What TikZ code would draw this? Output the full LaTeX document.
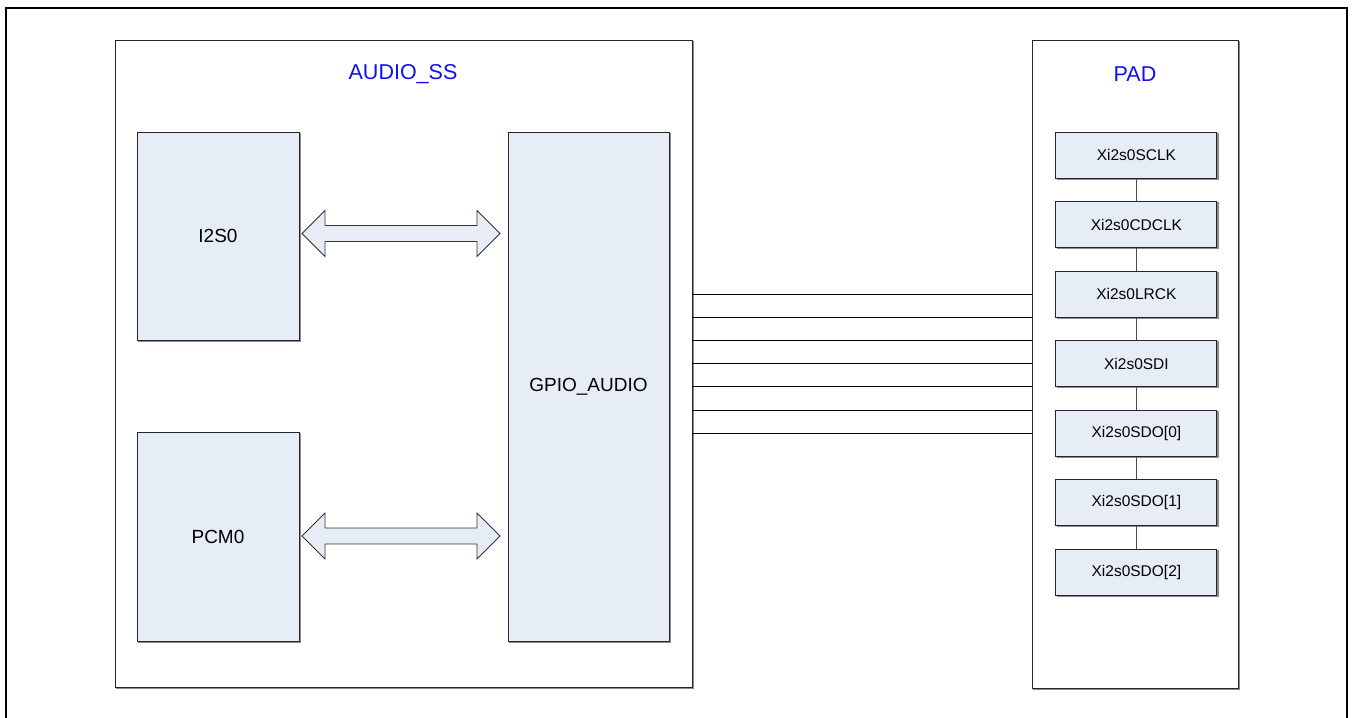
\documentclass[tikz,border=0pt]{standalone}
\usepackage{fontspec}
\setmainfont{Liberation Sans}
\definecolor{boxfill}{HTML}{E6EDF7}
\definecolor{lblblue}{HTML}{1010F0}
\begin{document}
\begin{tikzpicture}[x=1pt,y=-1pt,
  shadowed/.style={draw=black!85,line width=0.9pt,
    preaction={draw=black!45,fill=black!45,line width=0.9pt,transform canvas={xshift=1.2pt,yshift=-1.2pt}}},
  blk/.style={shadowed,fill=boxfill,inner sep=0pt},
  bigbox/.style={shadowed,fill=white,inner sep=0pt},
  padbox/.style={blk,minimum width=161pt,minimum height=46pt,font=\fontsize{15.5}{18}\selectfont},
  title/.style={text=lblblue,font=\fontsize{21.5}{24}\selectfont},
  bus/.style={draw=black!80,fill=boxfill,line width=0.8pt,line join=miter},
  wire/.style={draw=black,line width=0.9pt},
  link/.style={draw=black!70,line width=0.9pt}]
\useasboundingbox (0,0) rectangle (1353,718);
% outer frame
\draw[line width=1.6pt] (6,725) -- (6,8) -- (1347,8) -- (1347,725);
% AUDIO_SS block
\node[bigbox,minimum width=577pt,minimum height=647pt] (ss) at (403.5,363.5) {};
\node[title] (sslbl) at (403,74) {AUDIO\_SS};
\node[blk,minimum width=162pt,minimum height=208pt,font=\fontsize{19}{22}\selectfont] (i2s) at (218,236) {I2S0};
\node[blk,minimum width=162pt,minimum height=209pt,font=\fontsize{19}{22}\selectfont] (pcm) at (218,536.5) {PCM0};
\node[blk,minimum width=161pt,minimum height=509pt,font=\fontsize{19}{22}\selectfont] (gpio) at (588.5,386.5) {GPIO\_AUDIO};
% double arrows between blocks
\foreach \src/\yy in {i2s/233.5,pcm/536}{
  \coordinate (L) at ([xshift=2.5pt]\src.east |- 0,\yy);
  \coordinate (R) at ([xshift=-7.5pt]gpio.west |- 0,\yy);
  \path[bus] (L) -- ++(23,-23) -- ++(0,15) -- ([xshift=-23pt,yshift=8pt]R) -- ++(0,-15)
    -- (R) -- ++(-23,23) -- ++(0,-15) -- ([xshift=23pt,yshift=-8pt]L) -- ++(0,15) -- cycle;
}
% PAD block
\node[bigbox,minimum width=206pt,minimum height=648pt] (pad) at (1135,364) {};
\node[title] (padlbl) at (1135,74) {PAD};
\node[padbox] (p1) at (1136.4,155.2) {Xi2s0SCLK};
\node[padbox] (p2) at (1136.4,224.7) {Xi2s0CDCLK};
\node[padbox] (p3) at (1136.4,294.2) {Xi2s0LRCK};
\node[padbox] (p4) at (1136.4,363.7) {Xi2s0SDI};
\node[padbox] (p5) at (1136.4,433.2) {Xi2s0SDO[0]};
\node[padbox] (p6) at (1136.4,502.7) {Xi2s0SDO[1]};
\node[padbox] (p7) at (1136.4,572.2) {Xi2s0SDO[2]};
\foreach \a/\b in {p1/p2,p2/p3,p3/p4,p4/p5,p5/p6,p6/p7}
  \draw[link] (\a.south) -- (\b.north);
% wires
\foreach \yy [count=\i] in {294,317.3,340.7,363.3,386.7,410,433.3}{
  \coordinate (wy\i) at (0,\yy);
  \draw[wire] (ss.east |- wy\i) -- (pad.west |- wy\i);
}
\end{tikzpicture}
\end{document}
